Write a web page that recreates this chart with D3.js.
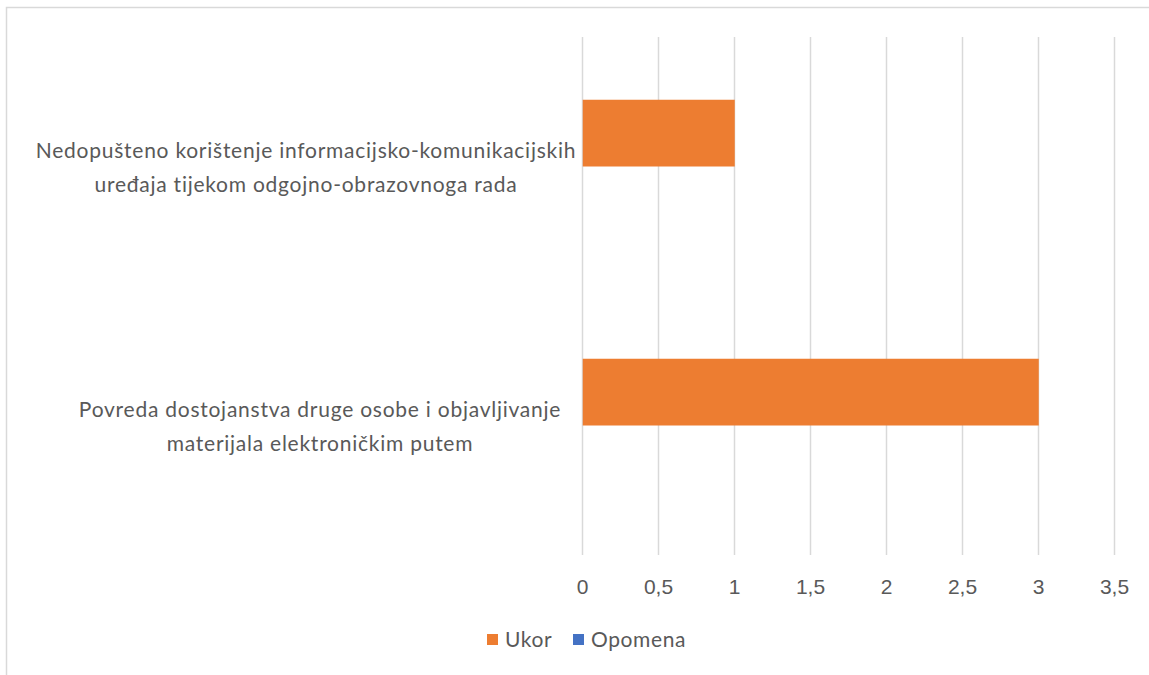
<!DOCTYPE html>
<html>
<head>
<meta charset="utf-8">
<script src="https://cdn.jsdelivr.net/npm/d3@7"></script>
<style>
  html, body { margin: 0; padding: 0; background: #fff; }
  svg { display: block; font-family: Lato, "Open Sans", sans-serif; }
</style>
</head>
<body>
<svg id="chart" width="1149" height="675"></svg>
<script>
// categories listed top to bottom, each label split into its two lines
const categories = [
  'Nedopušteno korištenje informacijsko-komunikacijskih|uređaja tijekom odgojno-obrazovnoga rada',
  'Povreda dostojanstva druge osobe i objavljivanje|materijala elektroničkim putem'
];
const seriesNames = ['Ukor', 'Opomena'];
const ukorValues = [1, 3];
const opomenaValues = [0, 0];
const xTicks = [0, 0.5, 1, 1.5, 2, 2.5, 3, 3.5];
const seriesColors = ['#ED7D31', '#4472C4'];

const svg = d3.select('#chart');
const plot = { left: 582, right: 1114, top: 37, bottom: 555 };
const labelColor = '#595959';
const gridColor = '#d9d9d9';
const fontSize = '21px';
const labelCenters = [306, 320];

// outer chart border (runs off the right and bottom edges)
svg.append('rect')
  .attr('x', 6.5).attr('y', 7.5)
  .attr('width', 1200).attr('height', 800)
  .attr('fill', 'none')
  .attr('stroke', gridColor)
  .attr('stroke-width', 1.5);

const x = d3.scaleLinear()
  .domain([0, 3.5])
  .range([plot.left, plot.right]);

const y = d3.scaleBand()
  .domain(categories)
  .range([plot.top, plot.bottom])
  .padding(0);

const ySub = d3.scaleBand()
  .domain(seriesNames)
  .range([0, y.bandwidth()])
  .paddingInner(0)
  .paddingOuter(0.94);

const commaFmt = d3.formatLocale({ decimal: ',', thousands: '.', grouping: [3], currency: ['', ''] }).format('~g');

// vertical gridlines + tick labels
const xAxis = d3.axisBottom(x)
  .tickValues(xTicks)
  .tickSize(-(plot.bottom - plot.top))
  .tickPadding(24)
  .tickFormat(commaFmt);

const axisG = svg.append('g')
  .attr('transform', `translate(0,${plot.bottom})`)
  .call(xAxis);
axisG.select('.domain').remove();
axisG.selectAll('.tick line')
  .attr('stroke', gridColor)
  .attr('stroke-width', 1.5);
axisG.selectAll('.tick text')
  .attr('fill', labelColor)
  .style('font-size', fontSize);

// bars
const seriesData = [ukorValues, opomenaValues];
seriesNames.forEach((name, si) => {
  svg.append('g')
    .selectAll('rect')
    .data(categories.map((c, i) => ({ cat: c, value: seriesData[si][i] })))
    .enter()
    .append('rect')
    .attr('x', x(0) + 0.75)
    .attr('y', d => y(d.cat) + ySub(name))
    .attr('width', d => Math.max(0, x(d.value) - x(0)))
    .attr('height', ySub.bandwidth())
    .attr('fill', seriesColors[si]);
});

// category labels
const catG = svg.append('g');
categories.forEach((c, ci) => {
  const lines = c.split('|');
  const cy = y(c) + y.bandwidth() / 2;
  const t = catG.append('text')
    .attr('text-anchor', 'middle')
    .attr('fill', labelColor)
    .style('font-size', fontSize)
    .style('letter-spacing', '0.75px');
  lines.forEach((ln, i) => {
    t.append('tspan')
      .attr('x', labelCenters[ci])
      .attr('y', cy - 16 + i * 34)
      .attr('dy', '0.35em')
      .text(ln);
  });
});

// legend
const legend = svg.append('g');
const legendItems = [
  { name: 'Ukor', color: seriesColors[0], x: 487 },
  { name: 'Opomena', color: seriesColors[1], x: 573 }
];
legendItems.forEach(it => {
  legend.append('rect')
    .attr('x', it.x).attr('y', 634)
    .attr('width', 11).attr('height', 11)
    .attr('fill', it.color);
  legend.append('text')
    .attr('x', it.x + 18).attr('y', 640)
    .attr('dy', '0.35em')
    .attr('fill', labelColor)
    .style('font-size', fontSize)
    .style('letter-spacing', '0.6px')
    .text(it.name);
});
</script>
</body>
</html>
